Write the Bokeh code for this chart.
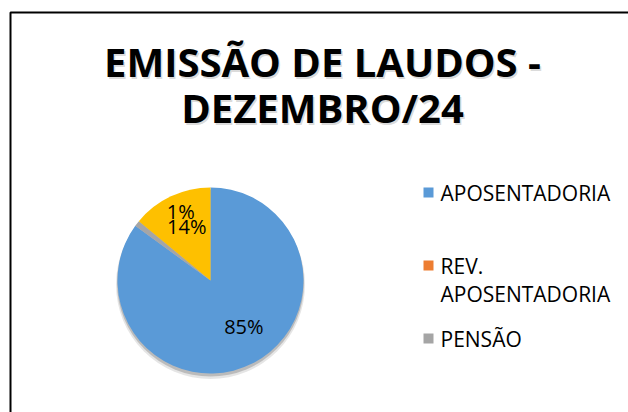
import numpy as np
from bokeh.plotting import figure
from bokeh.models import Range1d, BoxAnnotation, ColumnDataSource
from bokeh.core.properties import value
from bokeh.embed import file_html
from bokeh.resources import INLINE

# ---- data ----
title_lines = ["EMISSÃO DE LAUDOS -", "DEZEMBRO/24"]
categories = ["APOSENTADORIA", "REV. APOSENTADORIA", "PENSÃO", "OUTROS"]
percent = [85, 0, 1, 14]
colors = ["#5a9ad7", "#ed7d31", "#a5a5a5", "#fec000"]
legend_lines = [["APOSENTADORIA"], ["REV.", "APOSENTADORIA"], ["PENSÃO"]]

W, H = 628, 412
p = figure(width=W, height=H, output_backend="svg", toolbar_location=None,
           x_range=Range1d(0, W), y_range=Range1d(0, H), min_border=0)
p.axis.visible = False
p.grid.visible = False
p.outline_line_color = None
p.background_fill_color = "white"
p.border_fill_color = "white"

# chart frame border (cropped at right/bottom)
p.add_layout(BoxAnnotation(left=10, right=W + 50, bottom=-50, top=400,
                           fill_color=None, fill_alpha=0,
                           line_color="#000000", line_alpha=1.0, line_width=2))

FONT = "Open Sans"

# title (with soft drop shadow)
ty_title = [351, 305]
p.text(x=[323.5, 323.5], y=[t - 1.5 for t in ty_title], text=title_lines, text_align="center",
       text_baseline="middle", text_font=value(FONT), text_font_size="40px",
       text_font_style="bold", text_color="#808080", text_alpha=0.3)
p.text(x=[322, 322], y=ty_title, text=title_lines, text_align="center",
       text_baseline="middle", text_font=value(FONT), text_font_size="40px",
       text_font_style="bold", text_color="#000000")

# pie
cx, cy, R = 210, 132, 93
# soft shadow
p.circle(x=[cx], y=[cy - 4], radius=R + 1.5, fill_color="#000000", fill_alpha=0.10, line_color=None)
p.circle(x=[cx], y=[cy - 2.5], radius=R + 0.5, fill_color="#000000", fill_alpha=0.18, line_color=None)

vals = np.array(percent, dtype=float)
frac = vals / vals.sum()
cum = np.concatenate([[0.0], np.cumsum(frac)])
start = np.pi / 2 - cum[:-1] * 2 * np.pi
end = np.pi / 2 - cum[1:] * 2 * np.pi
mask = vals > 0
src = ColumnDataSource(dict(start=start[mask], end=end[mask],
                            color=[c for c, m in zip(colors, mask) if m]))
p.wedge(x=cx, y=cy, radius=R, start_angle="start", end_angle="end",
        direction="clock", fill_color="color", line_color=None, source=src)

# data labels
mid = (cum[:-1] + cum[1:]) / 2
ang = np.pi / 2 - mid * 2 * np.pi
lx = cx + 0.6 * R * np.cos(ang)
ly = cy + 0.6 * R * np.sin(ang) + 4
lx[0] += 8
labels = [f"{v:.0f}%" for v in vals]
big = [i for i in range(len(vals)) if vals[i] >= 5]
p.text(x=[lx[i] for i in big], y=[ly[i] for i in big], text=[labels[i] for i in big],
       text_align="center", text_baseline="middle", text_font=value(FONT),
       text_font_size="20px", text_color="#000000")
# small slice label stacked above the last slice's label (best-fit placement)
small = [i for i in range(len(vals)) if 0 < vals[i] < 5]
last = len(vals) - 1
p.text(x=[lx[last] - 20 for _ in small], y=[ly[last] + 15 * (k + 1) for k, _ in enumerate(small)],
       text=[labels[i] for i in small], text_align="left", text_baseline="middle",
       text_font=value(FONT), text_font_size="20px", text_color="#000000")

# legend
lg_x, lg_y0, slot, lh = 423, 220, 73, 28
sq_x, sq_y, tx, ty, tt = [], [], [], [], []
for i, lines in enumerate(legend_lines):
    yy = lg_y0 - i * slot
    sq_x.append(lg_x + 5)
    sq_y.append(yy)
    for j, t in enumerate(lines):
        tx.append(lg_x + 17)
        ty.append(yy - j * lh)
        tt.append(t)
p.rect(x=sq_x, y=sq_y, width=10, height=10, fill_color=colors[:len(legend_lines)], line_color=None)
p.text(x=tx, y=ty, text=tt, text_align="left", text_baseline="middle",
       text_font=value(FONT), text_font_size="21px", text_color="#000000")

open("out.html", "w").write(file_html(p, INLINE))
